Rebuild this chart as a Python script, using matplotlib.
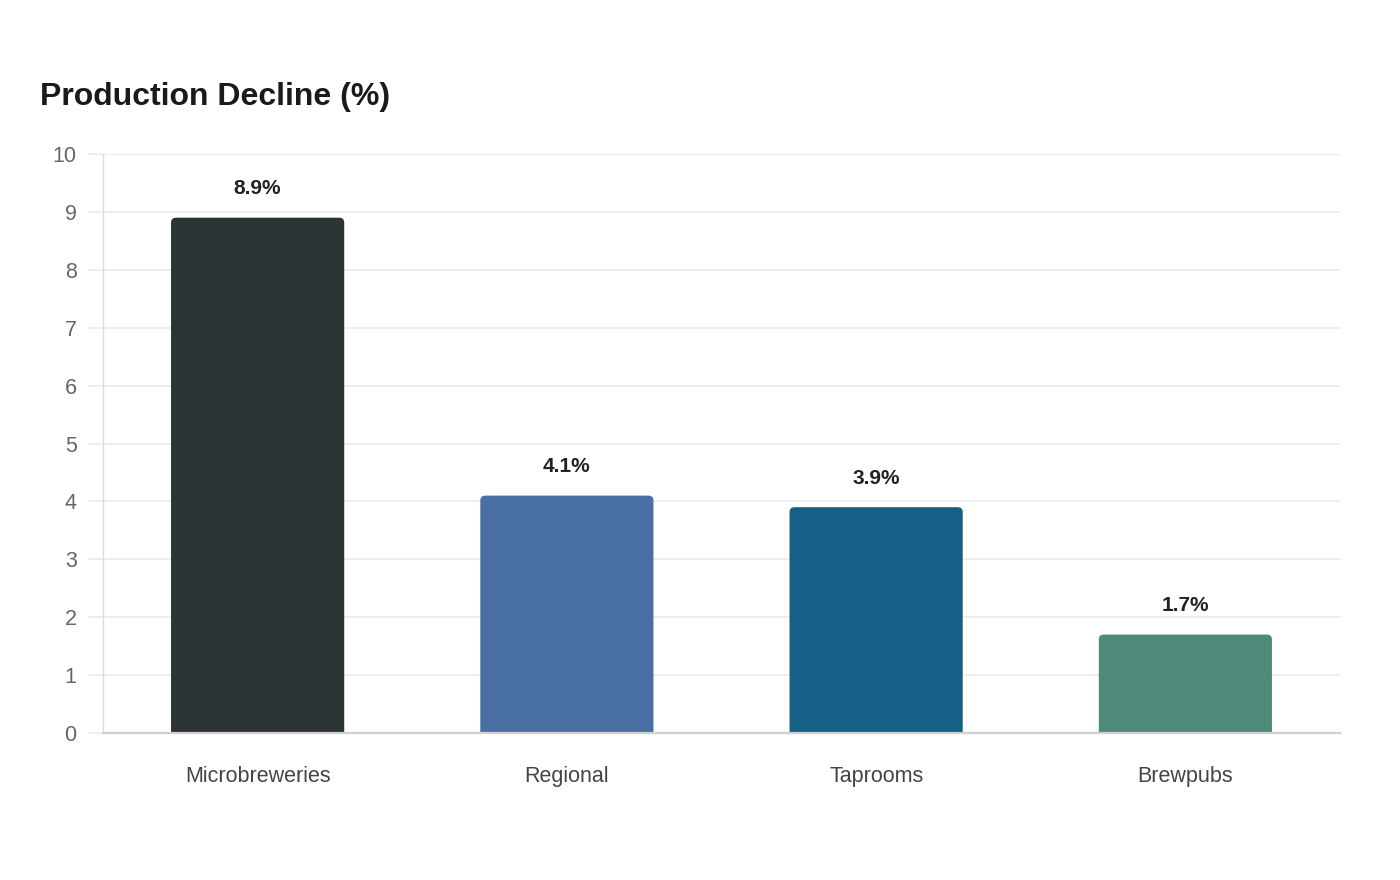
import matplotlib

matplotlib.use("Agg")
import matplotlib.pyplot as plt
from matplotlib.patches import PathPatch
from matplotlib.path import Path

plt.rcParams["font.family"] = ["Liberation Sans", "DejaVu Sans"]

categories = ["Microbreweries", "Regional", "Taprooms", "Brewpubs"]
decline = [8.9, 4.1, 3.9, 1.7]
colors = ["#2d3436", "#4a6fa5", "#166088", "#4f8b7a"]
y_ticks = list(range(0, 11))


def rounded_top(x0: float, width: float, height: float, rx: float, ry: float) -> Path:
    x1 = x0 + width
    verts = [
        (x0, 0), (x0, height - ry), (x0, height), (x0 + rx, height),
        (x1 - rx, height), (x1, height), (x1, height - ry), (x1, 0), (x0, 0),
    ]
    codes = [
        Path.MOVETO, Path.LINETO, Path.CURVE3, Path.CURVE3,
        Path.LINETO, Path.CURVE3, Path.CURVE3, Path.LINETO, Path.CLOSEPOLY,
    ]
    return Path(verts, codes)


def main() -> None:
    fig = plt.figure(figsize=(14, 8.8), dpi=100)
    ax = fig.add_axes([103 / 1400, 1 - 733 / 880, 1237 / 1400, 579 / 880])
    ax.set_xlim(-0.5, len(categories) - 0.5)
    ax.set_ylim(0, 10)

    positions = list(range(len(categories)))
    bars = ax.bar(positions, decline, width=0.56, color=colors, zorder=3)

    # corner radius of ~5px, converted to data units on each axis
    rx = 5 / (1237 / len(categories))
    ry = 5 / (579 / 10)
    for bar in bars:
        bar.set_visible(False)
        path = rounded_top(bar.get_x(), bar.get_width(), bar.get_height(), rx, ry)
        ax.add_patch(PathPatch(path, facecolor=bar.get_facecolor(), edgecolor="none", zorder=3))

    for pos, value in zip(positions, decline):
        ax.annotate(
            f"{value}%",
            xy=(pos, value),
            xytext=(0, 14),
            textcoords="offset points",
            ha="center",
            va="bottom",
            fontsize=15,
            fontweight="bold",
            color="#222222",
        )

    ax.set_yticks(y_ticks)
    ax.set_xticks(positions, categories)
    ax.grid(axis="y", color="#ebebeb", linewidth=1.2, zorder=0)
    ax.tick_params(axis="y", length=11, color="#ebebeb", width=1.2, labelsize=15.5,
                   labelcolor="#666666", pad=8)
    ax.tick_params(axis="x", length=0, labelsize=15.5, labelcolor="#444444", pad=24)

    for side in ("top", "right"):
        ax.spines[side].set_visible(False)
    ax.spines["left"].set_color("#dddddd")
    ax.spines["left"].set_linestyle((0, (1, 1)))
    ax.spines["left"].set_linewidth(1)
    ax.spines["bottom"].set_color("#d0d0d0")
    ax.spines["bottom"].set_linewidth(1.6)
    ax.spines["bottom"].set_zorder(4)

    fig.text(40 / 1400, 1 - 97 / 880, "Production Decline (%)", fontsize=23,
             fontweight="bold", color="#1a1a1a", ha="left", va="center")

    fig.savefig("out.png", dpi=100, facecolor="white")
    plt.close(fig)


if __name__ == "__main__":
    main()
